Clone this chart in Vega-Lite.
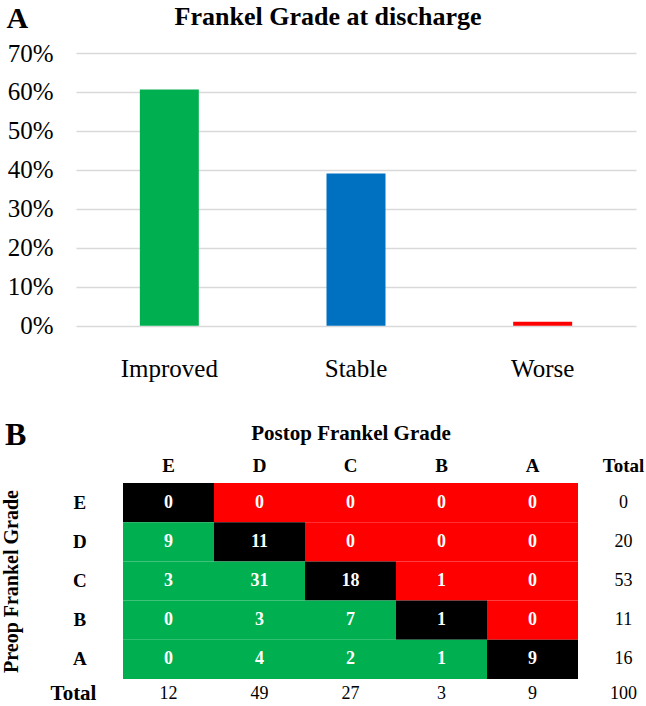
{
  "$schema": "https://vega.github.io/schema/vega-lite/v6.json",
  "padding": {"left": 1, "top": 3, "right": 0, "bottom": 0},
  "background": "white",
  "spacing": 37,
  "resolve": {"scale": {"color": "independent"}},
  "config": {
    "font": "Liberation Serif",
    "view": {"stroke": null},
    "axis": {"labelFont": "Liberation Serif", "titleFont": "Liberation Serif"},
    "text": {"font": "Liberation Serif"},
    "title": {"font": "Liberation Serif"}
  },
  "vconcat": [
    {
      "width": 560,
      "height": 272.7,
      "title": {"text": "Frankel Grade at discharge", "fontSize": 26, "fontWeight": "bold", "font": "Liberation Serif", "color": "black", "anchor": "middle", "frame": "group", "dx": -28, "offset": -27},
      "data": {"values": [
        {"outcome": "Improved", "share": 0.606},
        {"outcome": "Stable", "share": 0.391},
        {"outcome": "Worse", "share": 0.01}
      ]},
      "mark": {"type": "bar"},
      "encoding": {
        "x": {"field": "outcome", "type": "nominal", "sort": null,
          "scale": {"paddingInner": 0.684, "paddingOuter": 0.342},
          "axis": {"title": null, "labelAngle": 0, "labelFont": "Liberation Serif", "labelFontSize": 25, "labelColor": "black", "labelPadding": 31, "ticks": false, "tickSize": 0, "domain": false, "grid": false}},
        "y": {"field": "share", "type": "quantitative",
          "scale": {"domain": [0, 0.7]},
          "axis": {"values": [0, 0.1, 0.2, 0.3, 0.4, 0.5, 0.6, 0.7], "format": ".0%", "labelFont": "Liberation Serif", "labelFontSize": 25, "labelColor": "black", "labelPadding": 23, "ticks": false, "tickSize": 0, "domain": false, "gridColor": "#d9d9d9", "gridWidth": 1.6,
            "title": "A", "titleFont": "Liberation Serif", "titleAngle": 0, "titleAlign": "left", "titleBaseline": "alphabetic", "titleX": -70, "titleY": -26, "titleFontSize": 30, "titleFontWeight": "bold", "titleColor": "black"}},
        "color": {"field": "outcome", "type": "nominal", "scale": {"domain": ["Improved", "Stable", "Worse"], "range": ["#00b050", "#0070c0", "#ff0000"]}, "legend": null}
      }
    },
    {
      "width": 571,
      "height": 222,
      "title": {"text": "B", "fontSize": 32, "fontWeight": "bold", "font": "Liberation Serif", "color": "black", "anchor": "start", "frame": "group", "dx": -71, "offset": -30},
      "data": {"values": [
        {"pre": "E", "post": "E", "n": 0, "kind": "same"},
        {"pre": "E", "post": "D", "n": 0, "kind": "worse"},
        {"pre": "E", "post": "C", "n": 0, "kind": "worse"},
        {"pre": "E", "post": "B", "n": 0, "kind": "worse"},
        {"pre": "E", "post": "A", "n": 0, "kind": "worse"},
        {"pre": "D", "post": "E", "n": 9, "kind": "improved"},
        {"pre": "D", "post": "D", "n": 11, "kind": "same"},
        {"pre": "D", "post": "C", "n": 0, "kind": "worse"},
        {"pre": "D", "post": "B", "n": 0, "kind": "worse"},
        {"pre": "D", "post": "A", "n": 0, "kind": "worse"},
        {"pre": "C", "post": "E", "n": 3, "kind": "improved"},
        {"pre": "C", "post": "D", "n": 31, "kind": "improved"},
        {"pre": "C", "post": "C", "n": 18, "kind": "same"},
        {"pre": "C", "post": "B", "n": 1, "kind": "worse"},
        {"pre": "C", "post": "A", "n": 0, "kind": "worse"},
        {"pre": "B", "post": "E", "n": 0, "kind": "improved"},
        {"pre": "B", "post": "D", "n": 3, "kind": "improved"},
        {"pre": "B", "post": "C", "n": 7, "kind": "improved"},
        {"pre": "B", "post": "B", "n": 1, "kind": "same"},
        {"pre": "B", "post": "A", "n": 0, "kind": "worse"},
        {"pre": "A", "post": "E", "n": 0, "kind": "improved"},
        {"pre": "A", "post": "D", "n": 4, "kind": "improved"},
        {"pre": "A", "post": "C", "n": 2, "kind": "improved"},
        {"pre": "A", "post": "B", "n": 1, "kind": "improved"},
        {"pre": "A", "post": "A", "n": 9, "kind": "same"},
        {"pre": "E", "post": "Total", "n": 0, "kind": "total"},
        {"pre": "D", "post": "Total", "n": 20, "kind": "total"},
        {"pre": "C", "post": "Total", "n": 53, "kind": "total"},
        {"pre": "B", "post": "Total", "n": 11, "kind": "total"},
        {"pre": "A", "post": "Total", "n": 16, "kind": "total"},
        {"pre": "Total", "post": "E", "n": 12, "kind": "totalrow"},
        {"pre": "Total", "post": "D", "n": 49, "kind": "totalrow"},
        {"pre": "Total", "post": "C", "n": 27, "kind": "totalrow"},
        {"pre": "Total", "post": "B", "n": 3, "kind": "totalrow"},
        {"pre": "Total", "post": "A", "n": 9, "kind": "totalrow"},
        {"pre": "Total", "post": "Total", "n": 100, "kind": "totalrow"}
      ]},
      "encoding": {
        "x": {"field": "post", "type": "nominal",
          "scale": {"domain": ["E", "D", "C", "B", "A", "Total"], "range": [47, 593], "paddingInner": 0, "paddingOuter": 0},
          "axis": {"orient": "top", "title": "Postop Frankel Grade", "titleX": 274.5, "titleY": -44, "titleBaseline": "alphabetic", "titleAlign": "center", "titleFont": "Liberation Serif", "titleFontSize": 21, "titleFontWeight": "bold", "titleColor": "black",
            "labelFont": "Liberation Serif", "labelFontSize": 19, "labelFontWeight": "bold", "labelColor": "black", "labelAngle": 0, "labelPadding": 8, "ticks": false, "tickSize": 0, "domain": false, "grid": false}},
        "y": {"field": "pre", "type": "nominal",
          "scale": {"domain": ["E", "D", "C", "B", "A", "Total"], "range": [0, 235.2], "paddingInner": 0, "paddingOuter": 0},
          "axis": {"offset": -47, "title": "Preop Frankel Grade", "titleX": -105.7, "titleY": 98, "titleAngle": -90, "titleBaseline": "alphabetic", "titleAlign": "center", "titleFont": "Liberation Serif", "titleFontSize": 20, "titleFontWeight": "bold", "titleColor": "black",
            "labelFont": "Liberation Serif", "labelFontSize": {"condition": {"test": "datum.value == 'Total'", "value": 21}, "value": 19},
            "labelOffset": {"condition": {"test": "datum.value == 'Total'", "value": -5}, "value": 0},
            "labelPadding": {"condition": {"test": "datum.value == 'Total'", "value": 50}, "value": 43.7},
            "labelFontWeight": "bold", "labelColor": "black", "labelAlign": "center", "labelBaseline": "middle", "ticks": false, "tickSize": 0, "domain": false, "grid": false}}
      },
      "layer": [
        {"transform": [{"filter": "datum.kind != 'total' && datum.kind != 'totalrow'"}],
         "mark": {"type": "rect"},
         "encoding": {"color": {"field": "kind", "type": "nominal", "scale": {"domain": ["same", "worse", "improved"], "range": ["#000000", "#ff0000", "#00b050"]}, "legend": null}}},
        {"transform": [{"filter": "datum.kind != 'total' && datum.kind != 'totalrow'"}],
         "mark": {"type": "text", "font": "Liberation Serif", "fontSize": 18, "fontWeight": "bold", "color": "white"},
         "encoding": {"text": {"field": "n", "type": "quantitative"}}},
        {"transform": [{"filter": "datum.kind == 'total'"}],
         "mark": {"type": "text", "font": "Liberation Serif", "fontSize": 18, "color": "black"},
         "encoding": {"text": {"field": "n", "type": "quantitative"}}},
        {"transform": [{"filter": "datum.kind == 'totalrow'"}],
         "mark": {"type": "text", "font": "Liberation Serif", "fontSize": 18, "color": "black", "yOffset": -5},
         "encoding": {"text": {"field": "n", "type": "quantitative"}}}
      ]
    }
  ]
}
